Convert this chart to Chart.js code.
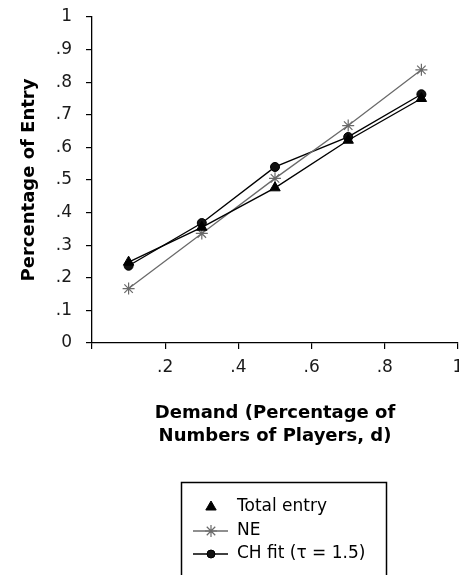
<!DOCTYPE html>
<html>
<head>
<meta charset="utf-8">
<script src="https://cdn.jsdelivr.net/npm/chart.js@4"></script>
<style>
  html, body { margin: 0; padding: 0; background: #fff; }
  #wrap { width: 459px; height: 575px; position: relative; }
</style>
</head>
<body>
<div id="wrap"><canvas id="c" width="459" height="575"></canvas></div>
<script>
const demand = [0.1, 0.3, 0.5, 0.7, 0.9];
const totalEntry = [0.248, 0.355, 0.476, 0.622, 0.750];
const neValues = [0.167, 0.336, 0.505, 0.667, 0.838];
const chFit = [0.237, 0.368, 0.540, 0.632, 0.763];
const seriesLabels = ['Total entry', 'NE', 'CH fit (\u03c4 = 1.5)'];
const xTicks = [0, 0.2, 0.4, 0.6, 0.8, 1];
const yTicks = [0, 0.1, 0.2, 0.3, 0.4, 0.5, 0.6, 0.7, 0.8, 0.9, 1];
const xTitle = ['Demand (Percentage of', 'Numbers of Players, d)'];
const yTitle = 'Percentage of Entry';

function fmt(v) {
  const r = Math.round(v * 10) / 10;
  if (r === 0) return '0';
  if (r === 1) return '1';
  return '.' + Math.round(r * 10);
}
function pts(ys) { return demand.map((x, i) => ({x: x, y: ys[i]})); }

const FONT = 'DejaVu Sans';
const GRAY = '#6a6a6a';

const legendPlugin = {
  id: 'boxLegend',
  afterDraw(chart) {
    const ctx = chart.ctx;
    const ds = chart.data.datasets;
    ctx.save();
    ctx.strokeStyle = '#000';
    ctx.lineWidth = 1.5;
    ctx.strokeRect(181.5, 482.5, 205, 120);
    const rows = [507, 531, 554];
    ds.forEach((d, i) => {
      const y = rows[i];
      if (d.legendLine !== false) {
        ctx.beginPath();
        ctx.strokeStyle = d.borderColor;
        ctx.lineWidth = d.borderWidth;
        ctx.moveTo(193, y);
        ctx.lineTo(228, y);
        ctx.stroke();
      }
      ctx.strokeStyle = d.pointBorderColor;
      ctx.fillStyle = d.pointBackgroundColor;
      ctx.lineWidth = d.pointBorderWidth;
      Chart.helpers.drawPoint(ctx, {
        pointStyle: d.pointStyle,
        radius: d.legendRadius,
        borderWidth: d.pointBorderWidth,
        rotation: 0
      }, 211, y);
      ctx.font = '17px "' + FONT + '"';
      ctx.textBaseline = 'middle';
      ctx.textAlign = 'left';
      ctx.fillStyle = '#000';
      ctx.fillText(d.label, 237, y);
    });
    ctx.restore();
  }
};

new Chart(document.getElementById('c'), {
  type: 'line',
  data: {
    datasets: [
      {
        label: seriesLabels[0], data: pts(totalEntry),
        borderColor: '#000', borderWidth: 1.4,
        pointStyle: 'triangle', pointRadius: 6, legendRadius: 6,
        pointBackgroundColor: '#000', pointBorderColor: '#000', pointBorderWidth: 1,
        legendLine: false
      },
      {
        label: seriesLabels[1], data: pts(neValues),
        borderColor: GRAY, borderWidth: 1.3,
        pointStyle: 'star', pointRadius: 6, legendRadius: 6,
        pointBackgroundColor: GRAY, pointBorderColor: GRAY, pointBorderWidth: 1.2
      },
      {
        label: seriesLabels[2], data: pts(chFit),
        borderColor: '#000', borderWidth: 1.4,
        pointStyle: 'circle', pointRadius: 4.5, legendRadius: 4,
        pointBackgroundColor: '#111', pointBorderColor: '#000', pointBorderWidth: 1
      }
    ]
  },
  options: {
    responsive: false,
    animation: false,
    devicePixelRatio: 1,
    layout: { autoPadding: false, padding: { left: 19, top: 17, right: 1, bottom: 127 } },
    plugins: { legend: { display: false }, tooltip: { enabled: false } },
    elements: { line: { tension: 0 } },
    scales: {
      x: {
        type: 'linear', min: 0, max: 1,
        afterBuildTicks: (s) => { s.ticks = xTicks.map(v => ({value: v})); },
        ticks: {
          color: '#1a1a1a', padding: 8, maxRotation: 0, autoSkip: false,
          font: { family: FONT, size: 17 },
          callback: (v) => (Math.abs(v) < 1e-9 ? '' : fmt(v))
        },
        grid: { drawOnChartArea: false, drawTicks: true, tickLength: 6, color: '#000', lineWidth: 1.2 },
        border: { display: true, color: '#000', width: 1.3 },
        title: {
          display: true, text: xTitle, color: '#000',
          font: { family: FONT, size: 18, weight: 'bold', lineHeight: 1.28 },
          padding: { top: 0, bottom: 0 }
        },
        afterFit: (s) => { s.height = 105; s.paddingLeft = 0; s.paddingRight = 0; }
      },
      y: {
        type: 'linear', min: 0, max: 1,
        afterBuildTicks: (s) => { s.ticks = yTicks.map(v => ({value: v})); },
        ticks: {
          color: '#1a1a1a', padding: 14, autoSkip: false,
          font: { family: FONT, size: 17 },
          callback: (v) => fmt(v)
        },
        grid: { drawOnChartArea: false, drawTicks: true, tickLength: 6, color: '#000', lineWidth: 1.2 },
        border: { display: true, color: '#000', width: 1.3 },
        title: {
          display: true, text: yTitle, color: '#000',
          font: { family: FONT, size: 18, weight: 'bold', lineHeight: 1.2 },
          padding: { top: 0, bottom: 0 }
        },
        afterFit: (s) => { s.width = 73; s.paddingTop = 0; s.paddingBottom = 0; }
      }
    }
  },
  plugins: [legendPlugin]
});
</script>
</body>
</html>
